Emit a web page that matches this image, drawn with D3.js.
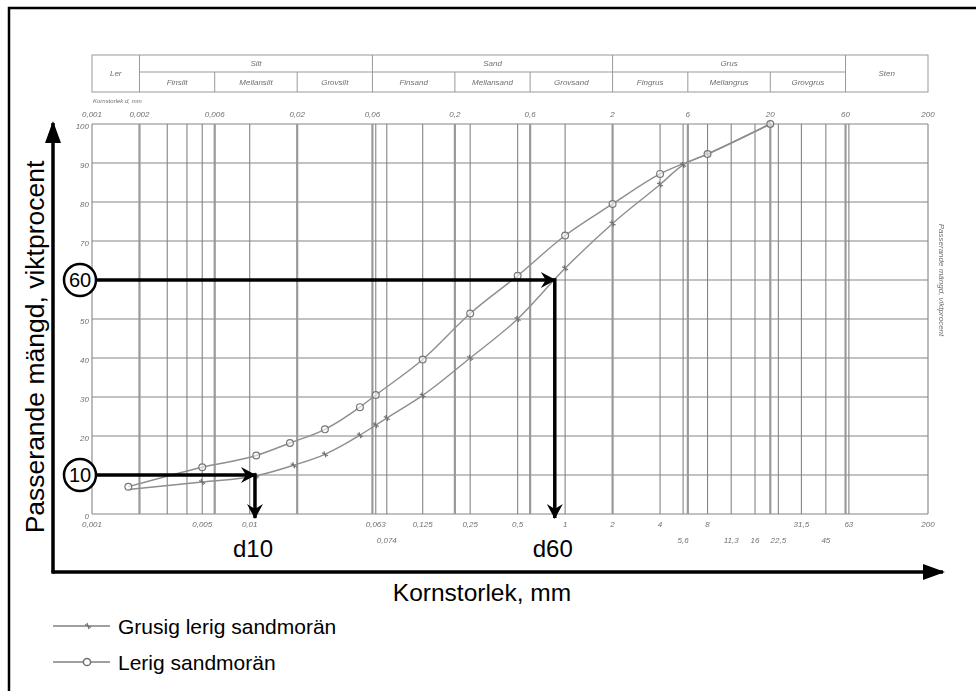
<!DOCTYPE html>
<html>
<head>
<meta charset="utf-8">
<script src="https://cdnjs.cloudflare.com/ajax/libs/d3/7.8.5/d3.min.js"></script>
<style>
  body { margin: 0; background: #fff; }
  svg { display: block; font-family: Arial, "Liberation Sans", sans-serif; }
</style>
</head>
<body>
<div id="chart"></div>
<script>
// Grain size curves (sieve size in mm, percent passing)
const sizesGrusig = [0.0017, 0.005, 0.011, 0.019, 0.03, 0.05, 0.063, 0.074, 0.125, 0.25, 0.5, 1, 2, 4, 5.6, 8, 20];
const passGrusig = [6.3, 8.2, 9.8, 12.5, 15.3, 20.2, 22.8, 24.6, 30.4, 40, 50, 63, 74.5, 84.5, 89.5, 92.3, 100];
const sizesLerig = [0.0017, 0.005, 0.011, 0.018, 0.03, 0.05, 0.063, 0.125, 0.25, 0.5, 1, 2, 4, 8, 20];
const passLerig = [7, 12, 15, 18.2, 21.7, 27.4, 30.5, 39.6, 51.4, 61.1, 71.4, 79.5, 87.2, 92.3, 100];
const seriesNames = ["Grusig lerig sandmorän", "Lerig sandmorän"];

// Grid / tick values
const gridSizes = [0.001, 0.002, 0.003, 0.004, 0.005, 0.006, 0.01, 0.02, 0.06, 0.063, 0.074, 0.125, 0.2, 0.25,
  0.5, 0.6, 1, 2, 4, 5.6, 6, 8, 11.3, 16, 20, 22.5, 31.5, 45, 60, 63, 200];
const boundarySizes = [0.002, 0.006, 0.02, 0.06, 0.2, 0.6, 2, 6, 20, 60];
const topTicks = [0.001, 0.002, 0.006, 0.02, 0.06, 0.2, 0.6, 2, 6, 20, 60, 200];
const bottomTicks = [0.001, 0.005, 0.01, 0.063, 0.125, 0.25, 0.5, 1, 2, 4, 8, 31.5, 63, 200];
const bottomTicks2 = [0.074, 5.6, 11.3, 16, 22.5, 45];
const pctTicks = [0, 10, 20, 30, 40, 50, 60, 70, 80, 90, 100];

// Fraction table above the chart
const mainFractions = ["Ler", "Silt", "Sand", "Grus", "Sten"];
const mainBounds = [0.001, 0.002, 0.06, 2, 60, 200];
const subFractions = ["Finsilt", "Mellansilt", "Grovsilt", "Finsand", "Mellansand", "Grovsand", "Fingrus", "Mellangrus", "Grovgrus"];
const subBounds = [0.002, 0.006, 0.02, 0.06, 0.2, 0.6, 2, 6, 20, 60];

// d10 / d60 annotations
const refPass = [10, 60];
const refSize = [0.0108, 0.86];
const refLabel = ["d10", "d60"];

const W = 976, H = 691;
const gridColor = "#858585", curveColor = "#8e8e8e", scanText = "#707070";

const svg = d3.select("#chart").append("svg")
  .attr("width", W)
  .attr("height", H);

const defs = svg.append("defs");
defs.append("filter").attr("id", "scan")
  .append("feGaussianBlur").attr("stdDeviation", 0.45);

// barbed arrowhead for the annotation arrows
defs.append("marker")
  .attr("id", "barb")
  .attr("markerUnits", "userSpaceOnUse")
  .attr("viewBox", "-16 -9 18 18")
  .attr("markerWidth", 18).attr("markerHeight", 18)
  .attr("refX", 0).attr("refY", 0)
  .attr("orient", "auto")
  .append("path")
    .attr("d", "M1,0 L-14,-8 L-9,0 L-14,8 Z")
    .attr("fill", "#000");

defs.append("marker")
  .attr("id", "axisHead")
  .attr("markerUnits", "userSpaceOnUse")
  .attr("viewBox", "-22 -9 24 18")
  .attr("markerWidth", 24).attr("markerHeight", 18)
  .attr("refX", 0).attr("refY", 0)
  .attr("orient", "auto")
  .append("path")
    .attr("d", "M2,0 L-20,-8 L-20,8 Z")
    .attr("fill", "#000");

const x = d3.scaleLog().domain([0.001, 200]).range([92, 928]);
const y = d3.scaleLinear().domain([0, 100]).range([514, 124]);
const fmt = d => String(d).replace(".", ",");

// outer frame (only top and left visible)
svg.append("path")
  .attr("d", `M9,${H} L9,8 L${W},8`)
  .attr("fill", "none")
  .attr("stroke", "#000")
  .attr("stroke-width", 2.5);

// ---- scanned diagram ----
const scan = svg.append("g").attr("filter", "url(#scan)");

// fraction table
const tTop = 55, tMid = 72, tBot = 92;
scan.append("rect")
  .attr("x", x(0.001)).attr("y", tTop)
  .attr("width", x(200) - x(0.001)).attr("height", tBot - tTop)
  .attr("fill", "none").attr("stroke", "#999").attr("stroke-width", 1);
scan.selectAll("line.mainsep")
  .data(mainBounds.slice(1, -1))
  .enter().append("line")
    .attr("class", "mainsep")
    .attr("x1", d => x(d)).attr("x2", d => x(d))
    .attr("y1", tTop).attr("y2", tBot)
    .attr("stroke", "#999");
scan.append("line")
  .attr("x1", x(0.002)).attr("x2", x(60))
  .attr("y1", tMid).attr("y2", tMid)
  .attr("stroke", "#999");
scan.selectAll("line.subsep")
  .data(subBounds.filter(d => !mainBounds.includes(d)))
  .enter().append("line")
    .attr("class", "subsep")
    .attr("x1", d => x(d)).attr("x2", d => x(d))
    .attr("y1", tMid).attr("y2", tBot)
    .attr("stroke", "#999");
scan.selectAll("text.main")
  .data(mainFractions)
  .enter().append("text")
    .attr("class", "main")
    .attr("x", (d, i) => (x(mainBounds[i]) + x(mainBounds[i + 1])) / 2)
    .attr("y", (d, i) => (i === 0 || i === 4) ? 76 : 66)
    .attr("text-anchor", "middle")
    .attr("font-size", 8).attr("font-style", "italic")
    .attr("fill", scanText)
    .text(d => d);
scan.selectAll("text.sub")
  .data(subFractions)
  .enter().append("text")
    .attr("class", "sub")
    .attr("x", (d, i) => (x(subBounds[i]) + x(subBounds[i + 1])) / 2)
    .attr("y", 85)
    .attr("text-anchor", "middle")
    .attr("font-size", 8).attr("font-style", "italic")
    .attr("fill", scanText)
    .text(d => d);

scan.append("text")
  .attr("x", 93).attr("y", 103)
  .attr("font-size", 6).attr("font-style", "italic")
  .attr("fill", scanText)
  .text("Kornstorlek d, mm");

// grid
scan.selectAll("line.hgrid")
  .data(pctTicks)
  .enter().append("line")
    .attr("class", "hgrid")
    .attr("x1", x(0.001)).attr("x2", x(200))
    .attr("y1", d => y(d)).attr("y2", d => y(d))
    .attr("stroke", gridColor).attr("stroke-width", 1.1);
scan.selectAll("line.vgrid")
  .data(gridSizes)
  .enter().append("line")
    .attr("class", "vgrid")
    .attr("x1", d => x(d)).attr("x2", d => x(d))
    .attr("y1", y(100)).attr("y2", y(0))
    .attr("stroke", d => boundarySizes.includes(d) ? "#9a9a9a" : gridColor)
    .attr("stroke-width", d => boundarySizes.includes(d) ? 2.2 : 1.1);

// tick labels
const smallLabel = (sel, cls, data, xf, yf, anchor) => sel.selectAll("text." + cls)
  .data(data)
  .enter().append("text")
    .attr("class", cls)
    .attr("x", xf).attr("y", yf)
    .attr("text-anchor", anchor)
    .attr("font-size", 8).attr("font-style", "italic")
    .attr("fill", scanText)
    .text(d => fmt(d));
smallLabel(scan, "top", topTicks, d => x(d), 117, "middle");
smallLabel(scan, "bot", bottomTicks, d => x(d), 527, "middle");
smallLabel(scan, "bot2", bottomTicks2, d => x(d), 543, "middle");
// the 10 and 60 labels are hidden under the annotation circles
smallLabel(scan, "pct", pctTicks.filter(d => !refPass.includes(d)), 89, d => y(d) + 5, "end");

scan.append("text")
  .attr("transform", `translate(939,${(y(40) + y(80)) / 2}) rotate(90)`)
  .attr("text-anchor", "middle")
  .attr("font-size", 8).attr("font-style", "italic")
  .attr("fill", scanText)
  .text("Passerande mängd, viktprocent");

// curves
const line = d3.line()
  .x(d => x(d[0]))
  .y(d => y(d[1]))
  .curve(d3.curveMonotoneX);
const grusig = d3.zip(sizesGrusig, passGrusig);
const lerig = d3.zip(sizesLerig, passLerig);

[grusig, lerig].forEach(data => {
  scan.append("path")
    .datum(data)
    .attr("d", line)
    .attr("fill", "none")
    .attr("stroke", curveColor)
    .attr("stroke-width", 1.4);
});

scan.selectAll("path.xmark")
  .data(grusig.slice(1))
  .enter().append("path")
    .attr("class", "xmark")
    .attr("transform", d => `translate(${x(d[0])},${y(d[1])})`)
    .attr("d", "M-3,-1.5 L3,1.5 M-1,-3 L1,3")
    .attr("stroke", "#6f6f6f").attr("stroke-width", 1.2);
scan.selectAll("circle.omark")
  .data(lerig)
  .enter().append("circle")
    .attr("class", "omark")
    .attr("cx", d => x(d[0])).attr("cy", d => y(d[1]))
    .attr("r", 3.4)
    .attr("fill", "#fff").attr("fill-opacity", 0.6)
    .attr("stroke", "#777").attr("stroke-width", 1.2);

// ---- overlay: axes and annotations ----
const ax0 = 53, ay0 = 572;
svg.append("line")
  .attr("x1", ax0).attr("y1", ay0)
  .attr("x2", ax0).attr("y2", 123)
  .attr("stroke", "#000").attr("stroke-width", 3.5)
  .attr("marker-end", "url(#axisHead)");
svg.append("line")
  .attr("x1", ax0).attr("y1", ay0)
  .attr("x2", 943).attr("y2", ay0)
  .attr("stroke", "#000").attr("stroke-width", 3.5)
  .attr("marker-end", "url(#axisHead)");
svg.append("rect")
  .attr("x", ax0 - 1.75).attr("y", ay0 - 1.75)
  .attr("width", 3.5).attr("height", 3.5)
  .attr("fill", "#000");

svg.append("text")
  .attr("x", 482).attr("y", 601)
  .attr("text-anchor", "middle")
  .attr("font-size", 24.5)
  .text("Kornstorlek, mm");
svg.append("text")
  .attr("transform", `translate(44,347) rotate(-90)`)
  .attr("text-anchor", "middle")
  .attr("font-size", 26.5)
  .text("Passerande mängd, viktprocent");

refPass.forEach((p, i) => {
  const cx = 80, cy = y(p), r = 16;
  svg.append("line")
    .attr("x1", cx + r).attr("y1", cy)
    .attr("x2", x(refSize[i])).attr("y2", cy)
    .attr("stroke", "#000").attr("stroke-width", 3.5)
    .attr("marker-end", "url(#barb)");
  svg.append("line")
    .attr("x1", x(refSize[i])).attr("y1", cy - 1.75)
    .attr("x2", x(refSize[i])).attr("y2", 518)
    .attr("stroke", "#000").attr("stroke-width", 3.5)
    .attr("marker-end", "url(#barb)");
  svg.append("circle")
    .attr("cx", cx).attr("cy", cy).attr("r", r)
    .attr("fill", "#fff").attr("stroke", "#000").attr("stroke-width", 2.5);
  svg.append("text")
    .attr("x", cx).attr("y", cy + 7)
    .attr("text-anchor", "middle")
    .attr("font-size", 20)
    .text(p);
  svg.append("text")
    .attr("x", x(refSize[i]) - 2).attr("y", 557)
    .attr("text-anchor", "middle")
    .attr("font-size", 24)
    .text(refLabel[i]);
});

// legend
seriesNames.forEach((name, i) => {
  const ly = 626 + i * 36;
  svg.append("line")
    .attr("x1", 53).attr("x2", 110)
    .attr("y1", ly).attr("y2", ly)
    .attr("stroke", "#a0a0a0").attr("stroke-width", 2.2);
  if (i === 0) {
    svg.append("path")
      .attr("transform", `translate(88,${ly})`)
      .attr("d", "M-3,-1.5 L3,1.5 M-1,-3 L1,3")
      .attr("stroke", "#6f6f6f").attr("stroke-width", 1.2);
  } else {
    svg.append("circle")
      .attr("cx", 87).attr("cy", ly).attr("r", 3.6)
      .attr("fill", "#fff").attr("stroke", "#6f6f6f").attr("stroke-width", 1.5);
  }
  svg.append("text")
    .attr("x", 118).attr("y", ly + 8)
    .attr("font-size", 21)
    .text(name);
});
</script>
</body>
</html>
